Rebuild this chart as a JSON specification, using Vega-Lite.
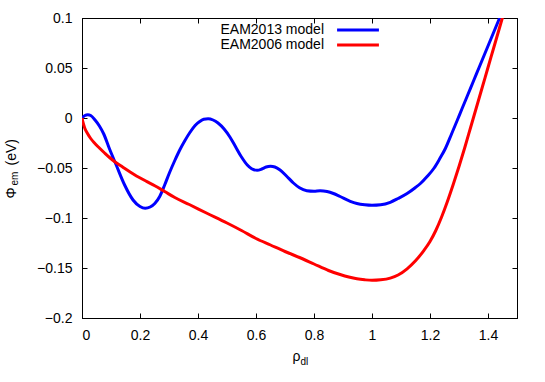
{
  "$schema": "https://vega.github.io/schema/vega-lite/v6.json",
  "width": 435,
  "height": 300,
  "autosize": {"type": "none"},
  "padding": {"left": 82, "top": 18, "right": 28, "bottom": 64},
  "background": "white",
  "config": {
    "font": "Liberation Sans",
    "view": {"stroke": "black", "strokeWidth": 1},
    "axis": {
      "grid": false,
      "domainColor": "black",
      "tickColor": "black",
      "labelColor": "black",
      "titleColor": "black",
      "labelFontSize": 14,
      "titleFontSize": 14,
      "titleFontWeight": "normal",
      "tickSize": -5,
      "labelPadding": 15
    }
  },
  "datasets": {
    "curves": [
      {"model": "EAM2013 model", "rho": 0, "phi": 0},
      {"model": "EAM2013 model", "rho": 0.01, "phi": 0.0025},
      {"model": "EAM2013 model", "rho": 0.02, "phi": 0.0033},
      {"model": "EAM2013 model", "rho": 0.03, "phi": 0.0025},
      {"model": "EAM2013 model", "rho": 0.045, "phi": -0.002},
      {"model": "EAM2013 model", "rho": 0.06, "phi": -0.008},
      {"model": "EAM2013 model", "rho": 0.075, "phi": -0.016},
      {"model": "EAM2013 model", "rho": 0.095, "phi": -0.031},
      {"model": "EAM2013 model", "rho": 0.118, "phi": -0.047},
      {"model": "EAM2013 model", "rho": 0.147, "phi": -0.067},
      {"model": "EAM2013 model", "rho": 0.176, "phi": -0.082},
      {"model": "EAM2013 model", "rho": 0.2, "phi": -0.0885},
      {"model": "EAM2013 model", "rho": 0.218, "phi": -0.0903},
      {"model": "EAM2013 model", "rho": 0.235, "phi": -0.089},
      {"model": "EAM2013 model", "rho": 0.251, "phi": -0.0855},
      {"model": "EAM2013 model", "rho": 0.268, "phi": -0.0785},
      {"model": "EAM2013 model", "rho": 0.285, "phi": -0.067},
      {"model": "EAM2013 model", "rho": 0.302, "phi": -0.0545},
      {"model": "EAM2013 model", "rho": 0.32, "phi": -0.0425},
      {"model": "EAM2013 model", "rho": 0.337, "phi": -0.032},
      {"model": "EAM2013 model", "rho": 0.355, "phi": -0.0225},
      {"model": "EAM2013 model", "rho": 0.372, "phi": -0.0145},
      {"model": "EAM2013 model", "rho": 0.39, "phi": -0.0075},
      {"model": "EAM2013 model", "rho": 0.406, "phi": -0.0035},
      {"model": "EAM2013 model", "rho": 0.42, "phi": -0.0012},
      {"model": "EAM2013 model", "rho": 0.435, "phi": -0.0007},
      {"model": "EAM2013 model", "rho": 0.452, "phi": -0.002},
      {"model": "EAM2013 model", "rho": 0.469, "phi": -0.005},
      {"model": "EAM2013 model", "rho": 0.49, "phi": -0.011},
      {"model": "EAM2013 model", "rho": 0.51, "phi": -0.019},
      {"model": "EAM2013 model", "rho": 0.53, "phi": -0.029},
      {"model": "EAM2013 model", "rho": 0.55, "phi": -0.039},
      {"model": "EAM2013 model", "rho": 0.57, "phi": -0.047},
      {"model": "EAM2013 model", "rho": 0.585, "phi": -0.0507},
      {"model": "EAM2013 model", "rho": 0.604, "phi": -0.0523},
      {"model": "EAM2013 model", "rho": 0.62, "phi": -0.051},
      {"model": "EAM2013 model", "rho": 0.635, "phi": -0.049},
      {"model": "EAM2013 model", "rho": 0.65, "phi": -0.0483},
      {"model": "EAM2013 model", "rho": 0.665, "phi": -0.049},
      {"model": "EAM2013 model", "rho": 0.683, "phi": -0.052},
      {"model": "EAM2013 model", "rho": 0.705, "phi": -0.058},
      {"model": "EAM2013 model", "rho": 0.729, "phi": -0.065},
      {"model": "EAM2013 model", "rho": 0.75, "phi": -0.0698},
      {"model": "EAM2013 model", "rho": 0.775, "phi": -0.0727},
      {"model": "EAM2013 model", "rho": 0.8, "phi": -0.0732},
      {"model": "EAM2013 model", "rho": 0.821, "phi": -0.0727},
      {"model": "EAM2013 model", "rho": 0.845, "phi": -0.0735},
      {"model": "EAM2013 model", "rho": 0.867, "phi": -0.0755},
      {"model": "EAM2013 model", "rho": 0.89, "phi": -0.0785},
      {"model": "EAM2013 model", "rho": 0.925, "phi": -0.0833},
      {"model": "EAM2013 model", "rho": 0.948, "phi": -0.0855},
      {"model": "EAM2013 model", "rho": 0.975, "phi": -0.0868},
      {"model": "EAM2013 model", "rho": 1.0, "phi": -0.0873},
      {"model": "EAM2013 model", "rho": 1.03, "phi": -0.0868},
      {"model": "EAM2013 model", "rho": 1.063, "phi": -0.0843},
      {"model": "EAM2013 model", "rho": 1.09, "phi": -0.0805},
      {"model": "EAM2013 model", "rho": 1.121, "phi": -0.0755},
      {"model": "EAM2013 model", "rho": 1.15, "phi": -0.0695},
      {"model": "EAM2013 model", "rho": 1.167, "phi": -0.0655},
      {"model": "EAM2013 model", "rho": 1.19, "phi": -0.0585},
      {"model": "EAM2013 model", "rho": 1.213, "phi": -0.0505},
      {"model": "EAM2013 model", "rho": 1.233, "phi": -0.041},
      {"model": "EAM2013 model", "rho": 1.253, "phi": -0.0305},
      {"model": "EAM2013 model", "rho": 1.275, "phi": -0.0155},
      {"model": "EAM2013 model", "rho": 1.293, "phi": -0.003},
      {"model": "EAM2013 model", "rho": 1.31, "phi": 0.009},
      {"model": "EAM2013 model", "rho": 1.33, "phi": 0.023},
      {"model": "EAM2013 model", "rho": 1.35, "phi": 0.037},
      {"model": "EAM2013 model", "rho": 1.37, "phi": 0.051},
      {"model": "EAM2013 model", "rho": 1.39, "phi": 0.065},
      {"model": "EAM2013 model", "rho": 1.41, "phi": 0.079},
      {"model": "EAM2013 model", "rho": 1.43, "phi": 0.093},
      {"model": "EAM2013 model", "rho": 1.44, "phi": 0.1},
      {"model": "EAM2013 model", "rho": 1.45, "phi": 0.107},
      {"model": "EAM2006 model", "rho": 0, "phi": 0},
      {"model": "EAM2006 model", "rho": 0.005, "phi": -0.006},
      {"model": "EAM2006 model", "rho": 0.01, "phi": -0.0105},
      {"model": "EAM2006 model", "rho": 0.018, "phi": -0.015},
      {"model": "EAM2006 model", "rho": 0.03, "phi": -0.0205},
      {"model": "EAM2006 model", "rho": 0.043, "phi": -0.025},
      {"model": "EAM2006 model", "rho": 0.06, "phi": -0.03},
      {"model": "EAM2006 model", "rho": 0.078, "phi": -0.035},
      {"model": "EAM2006 model", "rho": 0.095, "phi": -0.0395},
      {"model": "EAM2006 model", "rho": 0.112, "phi": -0.0435},
      {"model": "EAM2006 model", "rho": 0.14, "phi": -0.049},
      {"model": "EAM2006 model", "rho": 0.181, "phi": -0.0567},
      {"model": "EAM2006 model", "rho": 0.22, "phi": -0.063},
      {"model": "EAM2006 model", "rho": 0.251, "phi": -0.0677},
      {"model": "EAM2006 model", "rho": 0.285, "phi": -0.0735},
      {"model": "EAM2006 model", "rho": 0.32, "phi": -0.0795},
      {"model": "EAM2006 model", "rho": 0.37, "phi": -0.0865},
      {"model": "EAM2006 model", "rho": 0.429, "phi": -0.095},
      {"model": "EAM2006 model", "rho": 0.5, "phi": -0.105},
      {"model": "EAM2006 model", "rho": 0.55, "phi": -0.1125},
      {"model": "EAM2006 model", "rho": 0.6, "phi": -0.1205},
      {"model": "EAM2006 model", "rho": 0.65, "phi": -0.127},
      {"model": "EAM2006 model", "rho": 0.7, "phi": -0.1335},
      {"model": "EAM2006 model", "rho": 0.75, "phi": -0.1395},
      {"model": "EAM2006 model", "rho": 0.8, "phi": -0.146},
      {"model": "EAM2006 model", "rho": 0.85, "phi": -0.1525},
      {"model": "EAM2006 model", "rho": 0.89, "phi": -0.1565},
      {"model": "EAM2006 model", "rho": 0.92, "phi": -0.159},
      {"model": "EAM2006 model", "rho": 0.948, "phi": -0.1608},
      {"model": "EAM2006 model", "rho": 0.975, "phi": -0.1618},
      {"model": "EAM2006 model", "rho": 1.0, "phi": -0.1623},
      {"model": "EAM2006 model", "rho": 1.03, "phi": -0.1618},
      {"model": "EAM2006 model", "rho": 1.063, "phi": -0.1601},
      {"model": "EAM2006 model", "rho": 1.09, "phi": -0.157},
      {"model": "EAM2006 model", "rho": 1.121, "phi": -0.1508},
      {"model": "EAM2006 model", "rho": 1.15, "phi": -0.1428},
      {"model": "EAM2006 model", "rho": 1.178, "phi": -0.1328},
      {"model": "EAM2006 model", "rho": 1.2, "phi": -0.1235},
      {"model": "EAM2006 model", "rho": 1.22, "phi": -0.1125},
      {"model": "EAM2006 model", "rho": 1.24, "phi": -0.099},
      {"model": "EAM2006 model", "rho": 1.26, "phi": -0.0835},
      {"model": "EAM2006 model", "rho": 1.28, "phi": -0.0665},
      {"model": "EAM2006 model", "rho": 1.3, "phi": -0.0485},
      {"model": "EAM2006 model", "rho": 1.32, "phi": -0.0295},
      {"model": "EAM2006 model", "rho": 1.34, "phi": -0.0095},
      {"model": "EAM2006 model", "rho": 1.36, "phi": 0.0105},
      {"model": "EAM2006 model", "rho": 1.38, "phi": 0.0305},
      {"model": "EAM2006 model", "rho": 1.4, "phi": 0.0505},
      {"model": "EAM2006 model", "rho": 1.42, "phi": 0.0705},
      {"model": "EAM2006 model", "rho": 1.44, "phi": 0.0905},
      {"model": "EAM2006 model", "rho": 1.46, "phi": 0.1105}
    ]
  },
  "data": {"name": "curves"},
  "resolve": {"axis": {"x": "independent", "y": "independent"}},
  "layer": [
    {
      "mark": {"type": "line", "strokeWidth": 3, "interpolate": "monotone", "clip": true},
      "encoding": {
        "x": {
          "field": "rho", "type": "quantitative",
          "scale": {"domain": [0, 1.5], "nice": false, "zero": false},
          "axis": {
            "orient": "bottom", "values": [0, 0.2, 0.4, 0.6, 0.8, 1, 1.2, 1.4], "format": "~g",
            "title": "ρ", "titleAlign": "left", "titleBaseline": "alphabetic",
            "titleX": 210, "titleY": 42
          }
        },
        "y": {
          "field": "phi", "type": "quantitative",
          "scale": {"domain": [-0.2, 0.1], "nice": false, "zero": false},
          "axis": {
            "orient": "left", "values": [-0.2, -0.15, -0.1, -0.05, 0, 0.05, 0.1], "format": "~g",
            "title": "Φ", "titleAngle": -90, "titleAlign": "left", "titleBaseline": "alphabetic",
            "titleX": -67, "titleY": 180
          }
        },
        "color": {
          "field": "model", "type": "nominal",
          "scale": {"domain": ["EAM2013 model", "EAM2006 model"], "range": ["#0000ff", "#ff0000"]},
          "legend": {
            "orient": "none", "legendX": 269, "legendY": 5, "title": null,
            "symbolType": "M-5,0H5", "symbolSize": 70, "symbolStrokeWidth": 3,
            "labelAlign": "right", "labelOffset": -41, "labelFontSize": 14, "labelColor": "black",
            "rowPadding": 1
          }
        }
      }
    },
    {
      "mark": {"type": "point", "opacity": 0},
      "encoding": {
        "x": {
          "field": "rho", "type": "quantitative",
          "axis": {
            "orient": "top", "values": [0, 0.2, 0.4, 0.6, 0.8, 1, 1.2, 1.4], "labels": false,
            "title": "dl", "titleFontSize": 10, "titleAlign": "left", "titleBaseline": "alphabetic",
            "titleX": 218, "titleY": 346
          }
        },
        "y": {
          "field": "phi", "type": "quantitative",
          "axis": {
            "orient": "right", "values": [-0.2, -0.15, -0.1, -0.05, 0, 0.05, 0.1], "labels": false,
            "title": "em", "titleFontSize": 10, "titleAngle": -90, "titleAlign": "left", "titleBaseline": "alphabetic",
            "titleX": -500, "titleY": 167
          }
        }
      }
    },
    {
      "mark": {"type": "point", "opacity": 0},
      "encoding": {
        "x": {"field": "rho", "type": "quantitative", "axis": null},
        "y": {
          "field": "phi", "type": "quantitative",
          "axis": {
            "orient": "left", "labels": false, "ticks": false, "domain": false,
            "title": "(eV)", "titleAngle": -90, "titleAlign": "left", "titleBaseline": "alphabetic",
            "titleX": -67, "titleY": 147
          }
        }
      }
    }
  ]
}
